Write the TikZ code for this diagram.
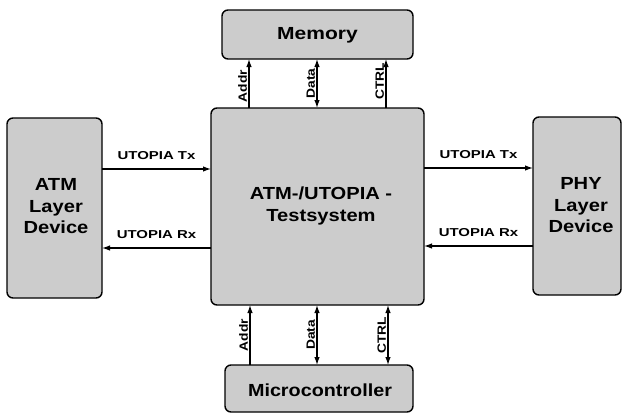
\documentclass[tikz,border=0pt]{standalone}
\usepackage{fontspec}
\usepackage{graphicx}
\setmainfont{Liberation Sans}
\usetikzlibrary{arrows.meta}
\newcommand{\hstr}[2]{\scalebox{#1}[1]{#2}}
\newcommand{\blines}[1]{\hstr{1.15}{\begin{tabular}{@{}c@{}}#1\end{tabular}}}
\begin{document}
\begin{tikzpicture}[x=1pt,y=-1pt,
  blk/.style={draw=black,line width=1.4pt,fill=black!20,rounded corners=6pt},
  big/.style={font=\fontsize{17.5}{21.5}\selectfont\bfseries,inner sep=0pt},
  lbl/.style={font=\fontsize{11.5}{13}\selectfont\bfseries},
  vlbl/.style={font=\fontsize{12}{13}\selectfont\bfseries,rotate=90,anchor=south,inner sep=1.5pt},
  conn/.style={line width=1.2pt,-{Latex[length=8pt,width=5.5pt]}},
  bconn/.style={line width=1.2pt,{Latex[length=8pt,width=5.5pt]}-{Latex[length=8pt,width=5.5pt]}}]
\useasboundingbox (0,0) rectangle (623,415);
% boxes
\draw[blk] (222,10) rectangle (413,59);
\node[big] (mem) at (317.5,35) {\hstr{1.2}{Memory}};
\draw[blk] (211,108) rectangle (424,305);
\node[big] (cen) at (321,206) {\blines{ATM-/UTOPIA -\\Testsystem}};
\draw[blk] (225,365) rectangle (413,412);
\node[big] (mc) at (320,390) {\hstr{1.13}{Microcontroller}};
\draw[blk] (7,118) rectangle (102,298);
\node[big] (atm) at (56,208) {\blines{ATM\\Layer\\Device}};
\draw[blk] (533,117) rectangle (621,295);
\node[big] (phy) at (581,207) {\blines{PHY\\Layer\\Device}};
% named connector endpoints
\coordinate (mA) at (249,59); \coordinate (cA) at (249,108);
\coordinate (mD) at (317,59); \coordinate (cD) at (317,108);
\coordinate (mC) at (386,59); \coordinate (cC) at (386,108);
\coordinate (bA) at (250,305); \coordinate (uA) at (250,365);
\coordinate (bD) at (317,305); \coordinate (uD) at (317,365);
\coordinate (bC) at (388,305); \coordinate (uC) at (388,365);
\coordinate (aTx) at (102,169); \coordinate (cTxL) at (211,169);
\coordinate (aRx) at (102,248); \coordinate (cRxL) at (211,248);
\coordinate (cTxR) at (424,168); \coordinate (pTx) at (533,168);
\coordinate (cRxR) at (424,246); \coordinate (pRx) at (533,246);
% top bus
\draw[conn] (cA) -- (mA) node[pos=0.45,vlbl] {\hstr{1.15}{Addr}};
\draw[bconn] (cD) -- (mD) node[pos=0.5,vlbl] {\hstr{1.15}{Data}};
\draw[conn] (cC) -- (mC) node[pos=0.55,vlbl] {\hstr{1.15}{CTRL}};
% bottom bus
\draw[conn] (uA) -- (bA) node[midway,vlbl] {\hstr{1.15}{Addr}};
\draw[bconn] (uD) -- (bD) node[midway,vlbl] {\hstr{1.15}{Data}};
\draw[bconn] (uC) -- (bC) node[midway,vlbl] {\hstr{1.15}{CTRL}};
% horizontal
\draw[conn] (aTx) -- (cTxL) node[midway,lbl,above=5pt] {\hstr{1.3}{UTOPIA Tx}};
\draw[conn] (cRxL) -- (aRx) node[midway,lbl,above=5pt] {\hstr{1.3}{UTOPIA Rx}};
\draw[conn] (cTxR) -- (pTx) node[midway,lbl,above=5pt] {\hstr{1.3}{UTOPIA Tx}};
\draw[conn] (pRx) -- (cRxR) node[midway,lbl,above=5pt] {\hstr{1.3}{UTOPIA Rx}};
\end{tikzpicture}
\end{document}
